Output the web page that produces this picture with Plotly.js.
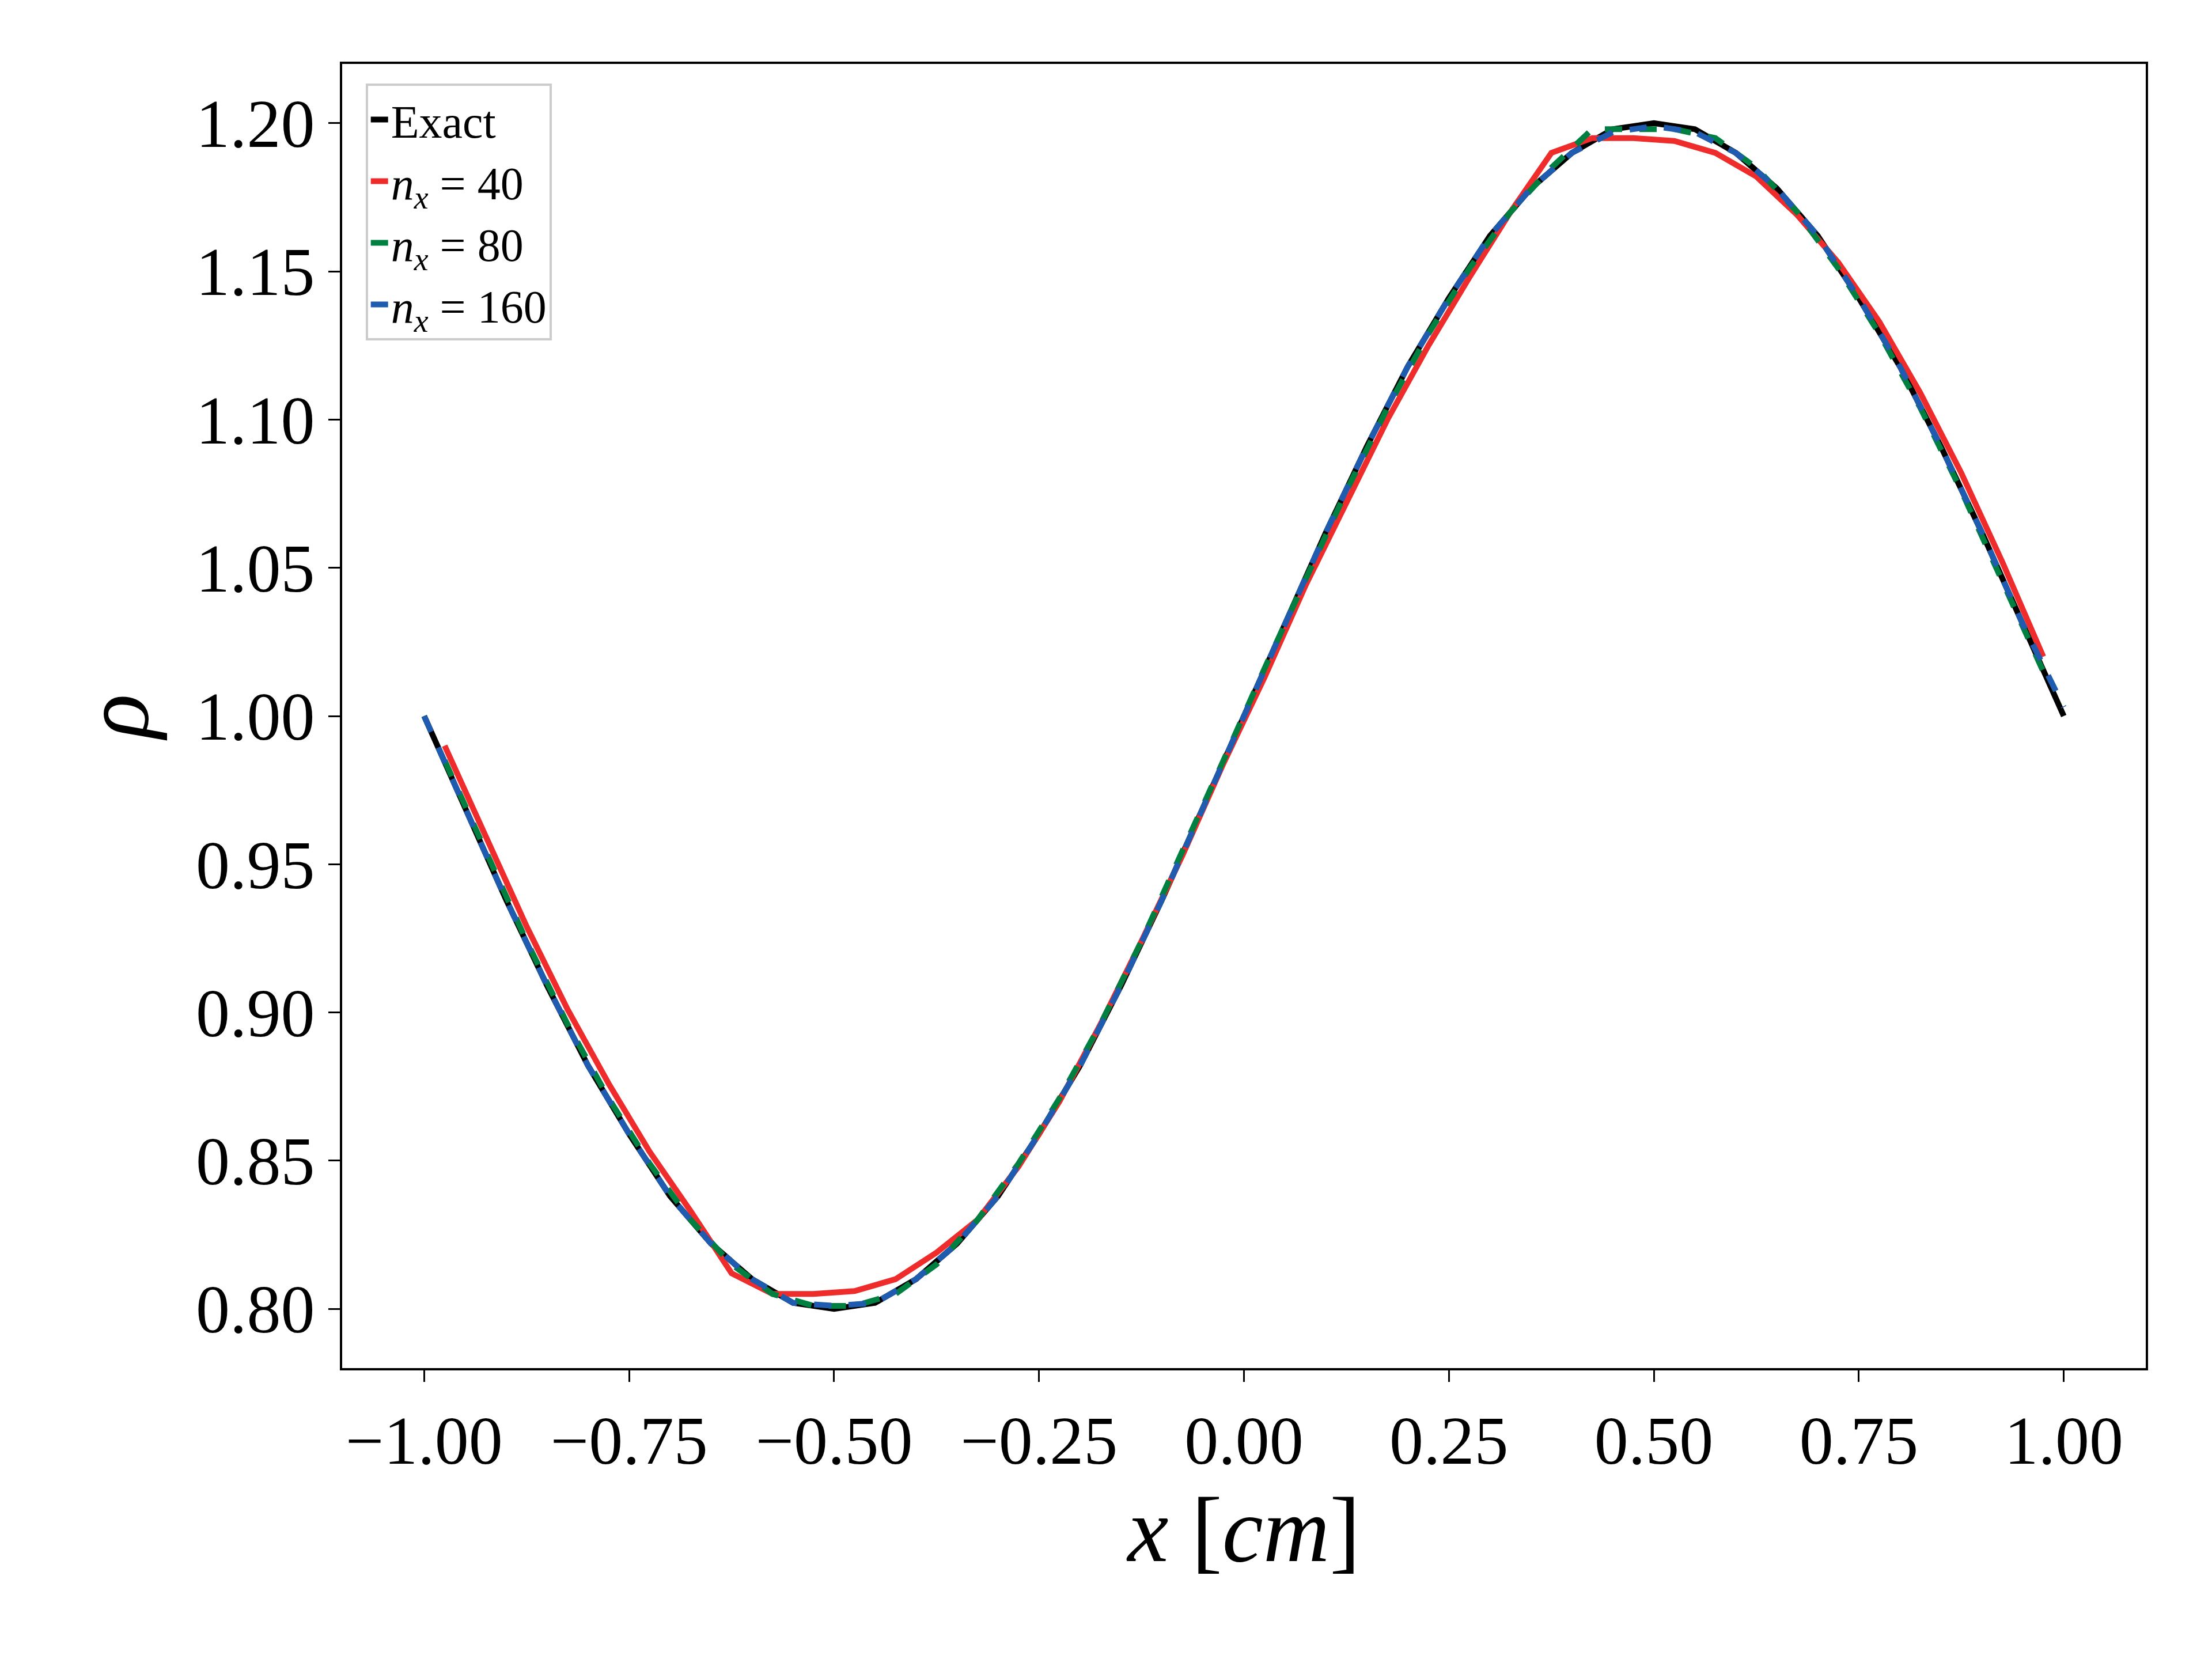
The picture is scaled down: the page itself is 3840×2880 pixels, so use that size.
<!DOCTYPE html>
<html>
<head>
<meta charset="utf-8">
<script src="https://cdn.plot.ly/plotly-3.0.1.min.js"></script>
<style>body{margin:0;background:#fff}</style>
</head>
<body>
<div id="chart" style="width:3840px;height:2880px"></div>
<script>
// values
const xExact = [-1, -0.95, -0.9, -0.85, -0.8, -0.75, -0.7, -0.65, -0.6, -0.55, -0.5, -0.45, -0.4, -0.35, -0.3, -0.25, -0.2, -0.15, -0.1, -0.05,
  0, 0.05, 0.1, 0.15, 0.2, 0.25, 0.3, 0.35, 0.4, 0.45, 0.5, 0.55, 0.6, 0.65, 0.7, 0.75, 0.8, 0.85, 0.9, 0.95, 1];
const rhoExact = [1.000, 0.969, 0.938, 0.909, 0.882, 0.859, 0.838, 0.822, 0.810, 0.802, 0.800, 0.802, 0.810, 0.822, 0.838, 0.859, 0.882, 0.909, 0.938, 0.969,
  1.000, 1.031, 1.062, 1.091, 1.118, 1.141, 1.162, 1.178, 1.190, 1.198, 1.200, 1.198, 1.190, 1.178, 1.162, 1.141, 1.118, 1.091, 1.062, 1.031, 1.000];

const xCells = [-0.975, -0.925, -0.875, -0.825, -0.775, -0.725, -0.675, -0.625, -0.575, -0.525, -0.475, -0.425, -0.375, -0.325, -0.275, -0.225, -0.175, -0.125, -0.075, -0.025,
  0.025, 0.075, 0.125, 0.175, 0.225, 0.275, 0.325, 0.375, 0.425, 0.475, 0.525, 0.575, 0.625, 0.675, 0.725, 0.775, 0.825, 0.875, 0.925, 0.975];
const rho40 = [0.990, 0.960, 0.929, 0.901, 0.876, 0.853, 0.833, 0.812, 0.805, 0.805, 0.806, 0.810, 0.819, 0.830, 0.848, 0.870, 0.896, 0.924, 0.953, 0.984,
  1.013, 1.044, 1.072, 1.100, 1.125, 1.148, 1.170, 1.190, 1.195, 1.195, 1.194, 1.190, 1.182, 1.169, 1.153, 1.133, 1.109, 1.082, 1.052, 1.020];
const rho80 = [0.985, 0.954, 0.924, 0.896, 0.871, 0.849, 0.830, 0.815, 0.805, 0.801, 0.801, 0.805, 0.815, 0.830, 0.849, 0.871, 0.896, 0.924, 0.954, 0.985,
  1.016, 1.046, 1.076, 1.104, 1.129, 1.151, 1.170, 1.185, 1.198, 1.198, 1.198, 1.195, 1.185, 1.170, 1.151, 1.129, 1.104, 1.076, 1.046, 1.015];
const rho160 = [1.000, 0.969, 0.938, 0.909, 0.882, 0.859, 0.838, 0.822, 0.810, 0.802, 0.801, 0.802, 0.810, 0.822, 0.838, 0.859, 0.882, 0.909, 0.938, 0.969,
  1.000, 1.031, 1.062, 1.091, 1.118, 1.141, 1.162, 1.178, 1.190, 1.197, 1.199, 1.197, 1.190, 1.178, 1.162, 1.141, 1.118, 1.091, 1.062, 1.031, 1.003];

const serif = "Liberation Serif, DejaVu Serif, serif";

const traces = [
  { x: xExact, y: rhoExact, type: "scatter", mode: "lines", name: "Exact",
    line: { color: "#000000", width: 10 } },
  { x: xCells, y: rho40, type: "scatter", mode: "lines", name: "<i>n</i><sub><i>x</i></sub> = 40",
    line: { color: "#ee2c2c", width: 10 } },
  { x: xCells, y: rho80, type: "scatter", mode: "lines", name: "<i>n</i><sub><i>x</i></sub> = 80",
    line: { color: "#008040", width: 10, dash: "dash" } },
  { x: xExact, y: rho160, type: "scatter", mode: "lines", name: "<i>n</i><sub><i>x</i></sub> = 160",
    line: { color: "#1f5cb0", width: 10, dash: "dash" } },
];

const axisBase = {
  showline: true, mirror: true, linecolor: "#000", linewidth: 4,
  ticks: "outside", ticklen: 20, tickwidth: 3, tickcolor: "#000",
  showgrid: false, zeroline: false,
  tickfont: { family: serif, size: 118, color: "#000" },
};

const layout = {
  width: 3840, height: 2880,
  paper_bgcolor: "#fff", plot_bgcolor: "#fff",
  margin: { l: 594, r: 115, t: 111, b: 505 },
  showlegend: true,
  legend: {
    x: 0.013, y: 0.985, xanchor: "left", yanchor: "top",
    bgcolor: "#fff", bordercolor: "#cccccc", borderwidth: 4,
    font: { family: serif, size: 80, color: "#000" },
    itemwidth: 30, tracegroupgap: 0,
  },
  xaxis: Object.assign({}, axisBase, {
    range: [-1.1, 1.1], tickvals: [-1, -0.75, -0.5, -0.25, 0, 0.25, 0.5, 0.75, 1], tickformat: ".2f",
    title: { text: "<i>x</i> [<i>cm</i>]", font: { family: serif, size: 160, color: "#000" }, standoff: 30 },
  }),
  yaxis: Object.assign({}, axisBase, {
    range: [0.78, 1.22], tickvals: [0.8, 0.85, 0.9, 0.95, 1.0, 1.05, 1.1, 1.15, 1.2], tickformat: ".2f",
    title: { text: "<i>ρ</i>", font: { family: serif, size: 160, color: "#000" }, standoff: 30 },
  }),
};

Plotly.newPlot("chart", traces, layout, { staticPlot: true });
</script>
</body>
</html>
